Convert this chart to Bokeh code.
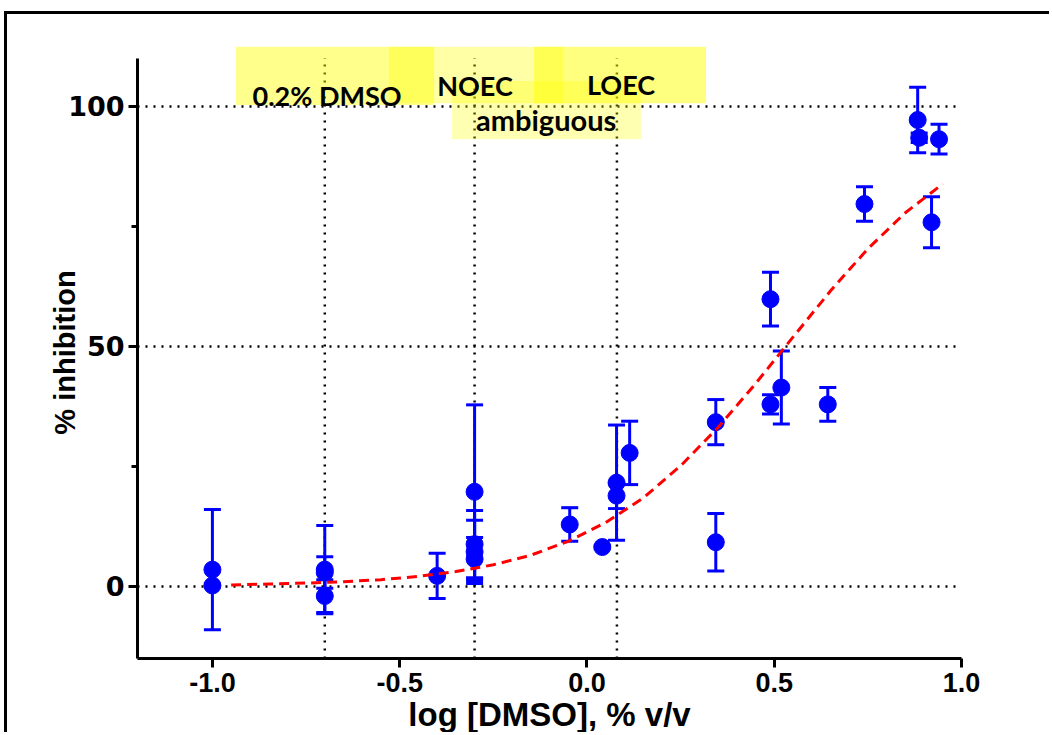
from bokeh.plotting import figure
from bokeh.models import (ColumnDataSource, Whisker, TeeHead, Label, BoxAnnotation,
                          FixedTicker, Range1d, NumeralTickFormatter)
from bokeh.embed import file_html
from bokeh.resources import INLINE

# ---- data ----
log_dmso = [-1.0, -1.0, -0.7, -0.7, -0.7, -0.4, -0.3, -0.3, -0.3, -0.3,
            -0.046, 0.041, 0.079, 0.079, 0.114, 0.344, 0.344, 0.49, 0.519,
            0.643, 0.49, 0.741, 0.92, 0.883, 0.887, 0.94]
inhibition = [3.5, 0.2, 3.5, 2.9, -2.0, 2.2, 19.7, 8.8, 7.2, 5.7,
              12.9, 8.2, 21.6, 18.9, 27.8, 34.2, 9.2, 37.9, 41.4,
              37.9, 59.8, 79.6, 75.8, 97.1, 93.4, 93.1]
sem = [12.5, 0.3, 9.2, 3.3, 3.4, 4.7, 18.1, 7.0, 6.6, 4.5,
       3.5, 0.3, 12.0, 2.7, 6.6, 4.7, 6.0, 2.0, 7.6,
       3.5, 5.6, 3.6, 5.3, 6.8, 1.0, 3.1]

fit_x = [-0.95, -0.85, -0.75, -0.65, -0.55, -0.45, -0.35, -0.25, -0.15, -0.05,
         0.05, 0.15, 0.25, 0.35, 0.45, 0.55, 0.65, 0.75, 0.85, 0.95]
fit_y = [0.3, 0.5, 0.7, 1.0, 1.4, 2.1, 3.1, 4.5, 6.5, 9.4,
         13.3, 18.4, 25.1, 33.1, 42.2, 51.9, 61.5, 70.3, 77.8, 83.8]

x_ticks = [-1.0, -0.5, 0.0, 0.5, 1.0]
y_ticks = [0, 50, 100]
y_minor_ticks = [25, 75]
ref_lines = [-0.7, -0.3, 0.08]   # log of 0.2 %, 0.5 %, 1.2 % DMSO
y_axis_min, y_axis_max = -15, 110

BLUE = "#0000ff"

p = figure(width=1045, height=721, x_range=Range1d(-1.2, 1.0), y_range=Range1d(-15, 112.4),
           output_backend="svg", toolbar_location=None,
           min_border_left=130, min_border_right=91, min_border_top=32, min_border_bottom=76)
p.outline_line_color = None
p.background_fill_color = "white"
p.border_fill_color = "white"
p.styles = {"margin-left": "4px", "margin-top": "11px",
            "border-left": "3px solid black", "border-top": "3px solid black"}

# axes
for ax in (p.xaxis, p.yaxis):
    ax.axis_line_width = 3
    ax.axis_line_color = "black"
    ax.major_tick_line_width = 3
    ax.major_tick_out = 9
    ax.major_tick_in = 0
    ax.minor_tick_in = 0
    ax.minor_tick_out = 6
    ax.minor_tick_line_width = 3
    ax.major_label_text_color = "black"
    ax.major_label_text_font_style = "bold"
    ax.axis_label_text_font = "Liberation Sans"
    ax.axis_label_text_font_style = "bold"
    ax.axis_label_text_color = "black"

p.xaxis.ticker = FixedTicker(ticks=x_ticks)
p.xaxis.formatter = NumeralTickFormatter(format="0.0")
p.xaxis.minor_tick_line_color = None
p.xaxis.major_label_text_font = "Liberation Sans"
p.xaxis.major_label_text_font_size = "27px"
p.xaxis.major_label_standoff = 5
p.xaxis.axis_label = "log [DMSO], % v/v"
p.xaxis.axis_label_text_font_size = "33px"
p.xaxis.axis_label_standoff = 1

p.yaxis.ticker = FixedTicker(ticks=y_ticks, minor_ticks=y_minor_ticks)
p.yaxis.bounds = (y_axis_min, y_axis_max)
p.yaxis.major_label_text_font = "DejaVu Sans"
p.yaxis.major_label_text_font_size = "27px"
p.yaxis.major_label_standoff = 4
p.yaxis.axis_label = "% inhibition"
p.yaxis.axis_label_text_font_size = "29px"
p.yaxis.axis_label_standoff = -16

# dotted grid / reference lines
p.xgrid.visible = False
p.ygrid.ticker = FixedTicker(ticks=y_ticks)
p.ygrid.grid_line_color = "black"
p.ygrid.grid_line_width = 2.5
p.ygrid.grid_line_dash = "2 6"

ref_src = ColumnDataSource(dict(x=ref_lines, y0=[y_axis_min] * len(ref_lines),
                                y1=[y_axis_max] * len(ref_lines)))
p.segment(x0="x", y0="y0", x1="x", y1="y1", source=ref_src,
          line_color="black", line_width=2.5, line_dash="2 6", level="underlay")

# error bars
lower = [y - e for y, e in zip(inhibition, sem)]
upper = [y + e for y, e in zip(inhibition, sem)]
src = ColumnDataSource(dict(x=log_dmso, y=inhibition, lower=lower, upper=upper))
w = Whisker(base="x", lower="lower", upper="upper", source=src, dimension="height",
            line_color=BLUE, line_width=3,
            upper_head=TeeHead(size=17, line_color=BLUE, line_width=3),
            lower_head=TeeHead(size=17, line_color=BLUE, line_width=3))
p.add_layout(w)

p.scatter("x", "y", source=src, size=17, fill_color=BLUE, line_color=BLUE)

p.line(fit_x, fit_y, line_color="#ff0000", line_width=3, line_dash="10 6")

# yellow highlight boxes (semi-transparent, overlapping)
boxes = [(-0.937, -0.408, 112.4, 100.2, 0.45),
         (-0.529, -0.064, 112.4, 100.6, 0.35),
         (-0.141, 0.318, 112.4, 100.6, 0.5),
         (-0.360, 0.144, 105.2, 93.1, 0.3)]
for l, r, t, b, a in boxes:
    p.add_layout(BoxAnnotation(left=l, right=r, top=t, bottom=b,
                               fill_color="#ffff00", fill_alpha=a, line_color=None))

def lab(x, y, text, size):
    p.add_layout(Label(x=x, y=y, text=text, text_font="Lato", text_font_style="bold",
                       text_font_size=size, text_align="center", text_baseline="alphabetic",
                       text_color="black"))

lab(-0.694, 102.1, "0.2% DMSO", "27px")
lab(-0.299, 104.2, "NOEC", "27px")
lab(0.091, 104.4, "LOEC", "27px")
lab(-0.109, 97.1, "ambiguous", "29px")

open("out.html", "w").write(file_html(p, INLINE))
